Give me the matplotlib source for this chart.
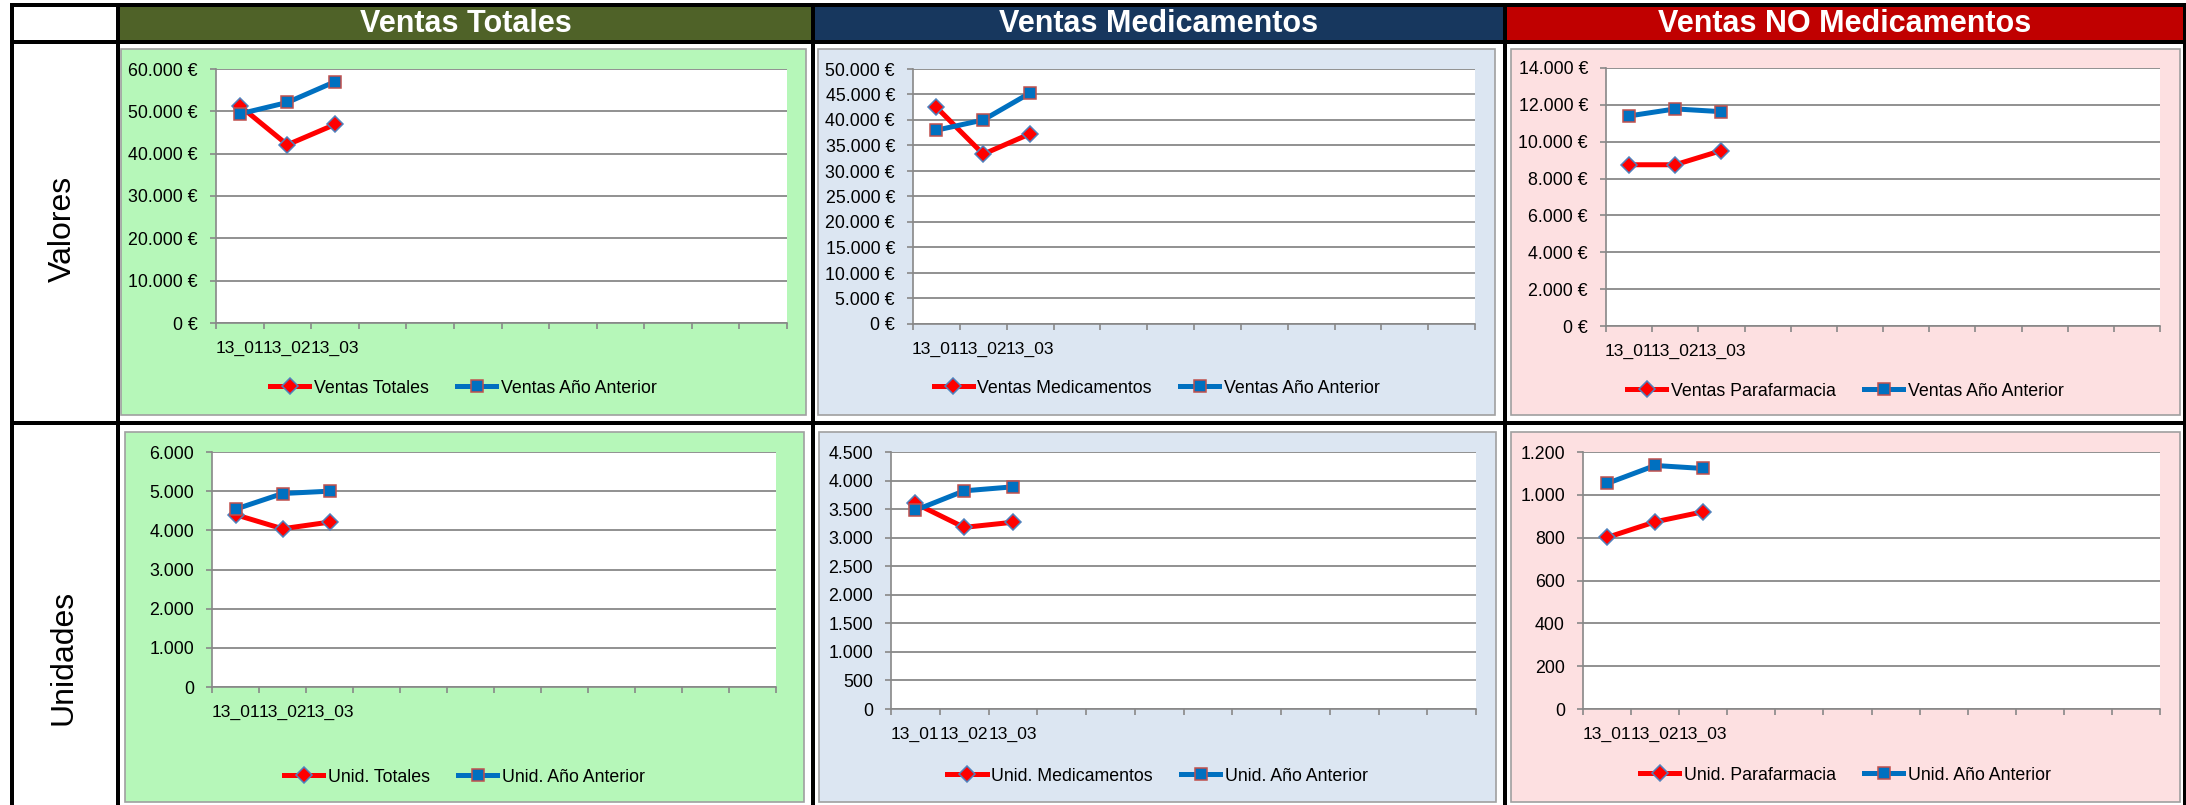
import numpy as np
import matplotlib
matplotlib.use("Agg")
import matplotlib.pyplot as plt
from matplotlib.patches import Rectangle
from matplotlib.ticker import FuncFormatter

W, H, DPI = 2186, 805, 100

# data
meses = ["13_01", "13_02", "13_03"]
n_slots = 12

ventas_totales = [51300, 42100, 46900]
ventas_totales_ant = [49400, 52100, 57000]
ventas_medic = [42500, 33300, 37300]
ventas_medic_ant = [38000, 40000, 45300]
ventas_para = [8750, 8750, 9520]
ventas_para_ant = [11400, 11780, 11630]

unid_totales = [4400, 4040, 4210]
unid_totales_ant = [4540, 4940, 5000]
unid_medic = [3600, 3180, 3270]
unid_medic_ant = [3480, 3820, 3890]
unid_para = [801, 874, 921]
unid_para_ant = [1053, 1137, 1123]

col_titles = ["Ventas Totales", "Ventas Medicamentos", "Ventas NO Medicamentos"]
row_titles = ["Valores", "Unidades"]

plt.rcParams["font.family"] = ["Liberation Sans", "DejaVu Sans"]

header_colors = ["#4F6228", "#17375E", "#C00000"]
bg_colors = ["#B6F7B9", "#DCE6F2", "#FDE0E1"]
grid_c = "#888888"

fig = plt.figure(figsize=(W / DPI, H / DPI), dpi=DPI)


def px_rect(x0, y0, x1, y1, **kw):
    r = Rectangle((x0 / W, 1 - y1 / H), (x1 - x0) / W, (y1 - y0) / H,
                  transform=fig.transFigure, **kw)
    fig.add_artist(r)
    return r


def euro(v, pos):
    return f"{v:,.0f}".replace(",", ".") + " €"


def plain(v, pos):
    return f"{v:,.0f}".replace(",", ".")


# panels: box px, plot px, legend y, ymax, step, formatter, series, labels, column
panels = [
    dict(box=(121, 49, 806, 415), plot=(216, 69, 787, 323), ly=388, ymax=60000, step=10000,
         fmt=euro, a=ventas_totales, b=ventas_totales_ant,
         labels=("Ventas Totales", "Ventas Año Anterior"), col=0),
    dict(box=(818, 49, 1495, 415), plot=(913, 69, 1475, 324), ly=388, ymax=50000, step=5000,
         fmt=euro, a=ventas_medic, b=ventas_medic_ant,
         labels=("Ventas Medicamentos", "Ventas Año Anterior"), col=1),
    dict(box=(1511, 49, 2180, 415), plot=(1606, 68, 2160, 326), ly=391, ymax=14000, step=2000,
         fmt=euro, a=ventas_para, b=ventas_para_ant,
         labels=("Ventas Parafarmacia", "Ventas Año Anterior"), col=2),
    dict(box=(125, 432, 804, 802), plot=(212, 452, 776, 687), ly=777, ymax=6000, step=1000,
         fmt=plain, a=unid_totales, b=unid_totales_ant,
         labels=("Unid. Totales", "Unid. Año Anterior"), col=0),
    dict(box=(819, 432, 1496, 802), plot=(891, 452, 1476, 709), ly=776, ymax=4500, step=500,
         fmt=plain, a=unid_medic, b=unid_medic_ant,
         labels=("Unid. Medicamentos", "Unid. Año Anterior"), col=1),
    dict(box=(1511, 432, 2180, 802), plot=(1583, 452, 2160, 709), ly=775, ymax=1200, step=200,
         fmt=plain, a=unid_para, b=unid_para_ant,
         labels=("Unid. Parafarmacia", "Unid. Año Anterior"), col=2),
]

# header cells
header_x = [(120, 811), (815, 1503), (1507, 2183)]
for (x0, x1), c, t in zip(header_x, header_colors, col_titles):
    px_rect(x0, 7, x1, 40, facecolor=c, edgecolor="none", zorder=-5)
    fig.text((x0 + x1) / 2 / W, 1 - 24 / H, t, color="white", fontsize=22,
             fontweight="bold", ha="center", va="center")

# row titles
fig.text(63 / W, 1 - 229 / H, row_titles[0], rotation=90, fontsize=23,
         ha="center", va="center")
fig.text(63 / W, 1 - 657 / H, row_titles[1], rotation=90, fontsize=23,
         ha="center", va="center")

xs = np.arange(len(meses))
for p in panels:
    bx0, by0, bx1, by1 = p["box"]
    px_rect(bx0, by0, bx1, by1, facecolor=bg_colors[p["col"]], edgecolor="#A0A0A0",
            lw=1.2, zorder=-5)

    x0, y0, x1, y1 = p["plot"]
    ax = fig.add_axes([x0 / W, 1 - y1 / H, (x1 - x0) / W, (y1 - y0) / H])
    ax.set_facecolor("white")

    ax.plot(xs, p["a"], color="#FF0000", lw=3.6, marker="D", ms=8.5,
            mfc="#FF0000", mec="#4F81BD", mew=1.1, label=p["labels"][0])
    ax.plot(xs, p["b"], color="#0070C0", lw=3.6, marker="s", ms=8.5,
            mfc="#0070C0", mec="#C0504D", mew=1.1, label=p["labels"][1])

    ax.set_xlim(-0.5, n_slots - 0.5)
    ax.set_ylim(0, p["ymax"])
    ax.set_yticks(np.arange(0, p["ymax"] + p["step"] / 2, p["step"]))
    ax.yaxis.set_major_formatter(FuncFormatter(p["fmt"]))

    ax.set_xticks(np.arange(n_slots + 1) - 0.5)
    ax.set_xticklabels([])
    ax.set_xticks(xs, minor=True)
    ax.set_xticklabels(meses, minor=True)
    ax.tick_params(axis="x", which="minor", length=0, pad=13, labelsize=12.6)
    ax.tick_params(axis="x", which="major", length=4, width=1.2, color=grid_c, direction="out")
    ax.tick_params(axis="y", length=4, width=1.2, color=grid_c, pad=9, labelsize=12.8)

    ax.grid(axis="y", color=grid_c, lw=1.3)
    ax.set_axisbelow(True)
    for s in ["top", "right"]:
        ax.spines[s].set_visible(False)
    for s in ["left", "bottom"]:
        ax.spines[s].set_color(grid_c)
        ax.spines[s].set_linewidth(1.2)

    cx = (bx0 + bx1) / 2
    ax.legend(loc="center", bbox_to_anchor=(cx / W, 1 - p["ly"] / H),
              bbox_transform=fig.transFigure, ncol=2, frameon=False, fontsize=12.8,
              handlelength=2.2, handletextpad=0.25, columnspacing=1.6, numpoints=1)

# table grid lines
black = dict(facecolor="black", edgecolor="none", zorder=10)
px_rect(10, 3, W, 7, **black)
px_rect(10, 40, W, 44, **black)
px_rect(10, 421, W, 425, **black)
px_rect(10, 3, 14, H, **black)
px_rect(116, 3, 120, H, **black)
px_rect(811, 3, 815, H, **black)
px_rect(1503, 3, 1507, H, **black)
px_rect(2183, 3, W, H, **black)

fig.savefig("out.png", dpi=DPI, facecolor="white")
